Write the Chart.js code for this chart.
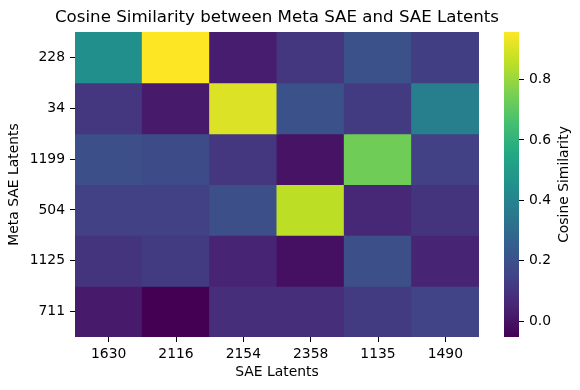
<!DOCTYPE html>
<html>
<head>
<meta charset="utf-8">
<script src="https://cdn.jsdelivr.net/npm/chart.js@4"></script>
<style>
  body { margin: 0; background: #fff; }
  #wrap { position: relative; width: 580px; height: 390px; }
  canvas { position: absolute; left: 0; top: 0; }
</style>
</head>
<body>
<div id="wrap">
  <canvas id="heat" width="554" height="390"></canvas>
  <canvas id="cbar" width="580" height="390"></canvas>
</div>
<script>
// SAE latents (columns) and Meta SAE latents (rows)
const colLabels = ['1630', '2116', '2154', '2358', '1135', '1490'];
const rowLabels = ['228', '34', '1199', '504', '1125', '711'];

// cosine similarity, one row per Meta SAE latent
const similarity = [
  [0.45, 0.957, 0.03, 0.11, 0.20, 0.13],
  [0.11, 0.02, 0.905, 0.20, 0.12, 0.38],
  [0.19, 0.18, 0.11, 0.00, 0.735, 0.14],
  [0.14, 0.14, 0.19, 0.855, 0.06, 0.10],
  [0.10, 0.12, 0.05, -0.01, 0.19, 0.05],
  [0.02, -0.052, 0.08, 0.08, 0.12, 0.15]
];
const cbTicks = [0.0, 0.2, 0.4, 0.6, 0.8];

const vmin = Math.min(...similarity.flat());
const vmax = Math.max(...similarity.flat());

// viridis, sampled every 0.1
const viridis = ['#440154', '#482475', '#414487', '#355f8d', '#2a788e', '#21918c',
                 '#22a884', '#44bf70', '#7ad151', '#bddf26', '#fde725'];

function hexToRgb(h) {
  return [parseInt(h.slice(1, 3), 16), parseInt(h.slice(3, 5), 16), parseInt(h.slice(5, 7), 16)];
}
function colorFor(v) {
  let t = (v - vmin) / (vmax - vmin);
  t = Math.max(0, Math.min(1, t)) * (viridis.length - 1);
  const i = Math.min(Math.floor(t), viridis.length - 2);
  const f = t - i;
  const a = hexToRgb(viridis[i]), b = hexToRgb(viridis[i + 1]);
  const c = a.map((x, k) => Math.round(x + (b[k] - x) * f));
  return 'rgb(' + c.join(',') + ')';
}

Chart.defaults.font.family = '"DejaVu Sans", sans-serif';
Chart.defaults.font.size = 13.9;
Chart.defaults.color = '#000';

// one floating-bar dataset per row, spanning [row-0.5, row+0.5]
const datasets = similarity.map((row, r) => ({
  label: rowLabels[r],
  data: row.map(() => [r - 0.5, r + 0.5]),
  backgroundColor: row.map(colorFor),
  borderWidth: 0,
  inflateAmount: 0.5,
  barPercentage: 1,
  categoryPercentage: 1,
  grouped: false
}));

// canvas is 554 wide and an empty right axis mirrors the left one,
// so the title centres over the heatmap
new Chart(document.getElementById('heat'), {
  type: 'bar',
  data: { labels: colLabels, datasets: datasets },
  options: {
    responsive: false,
    animation: false,
    plugins: {
      legend: { display: false },
      tooltip: { enabled: false },
      title: {
        display: true,
        text: 'Cosine Similarity between Meta SAE and SAE Latents',
        color: '#000',
        font: { size: 16.67, weight: 'normal' },
        padding: { top: 7.5, bottom: 4.5 }
      }
    },
    scales: {
      x: {
        grid: { offset: false, drawOnChartArea: false, tickLength: 5, color: '#000' },
        border: { display: false },
        ticks: { padding: 4 },
        title: { display: true, text: 'SAE Latents', padding: { top: 0, bottom: 9 } },
        afterFit: (axis) => { axis.width = axis.width; axis.height = 53; }
      },
      y: {
        type: 'linear',
        reverse: true,
        min: -0.5,
        max: rowLabels.length - 0.5,
        afterBuildTicks: (axis) => { axis.ticks = rowLabels.map((_, i) => ({ value: i })); },
        grid: { drawOnChartArea: false, tickLength: 5, color: '#000' },
        border: { display: false },
        ticks: { padding: 5, callback: (v) => rowLabels[v] },
        title: { display: true, text: 'Meta SAE Latents', padding: { top: 6, bottom: 0 } },
        afterFit: (axis) => { axis.width = 75; }
      },
      spacer: {
        type: 'linear',
        position: 'right',
        grid: { display: false },
        border: { display: false },
        ticks: { display: false },
        afterFit: (axis) => { axis.width = 75; }
      }
    }
  }
});

// colour bar: a single floating bar filled with the colormap
const cbLabel = {
  id: 'cbLabel',
  afterDraw(chart) {
    const { ctx, chartArea } = chart;
    ctx.save();
    ctx.translate(chart.scales.y.right - 10, (chartArea.top + chartArea.bottom) / 2);
    ctx.rotate(-Math.PI / 2);
    ctx.fillStyle = '#000';
    ctx.font = '13.9px "DejaVu Sans", sans-serif';
    ctx.textAlign = 'center';
    ctx.textBaseline = 'middle';
    ctx.fillText('Cosine Similarity', 0, 0);
    ctx.restore();
  }
};

new Chart(document.getElementById('cbar'), {
  type: 'bar',
  data: {
    labels: [''],
    datasets: [{
      data: [[vmin, vmax]],
      backgroundColor: (c) => {
        const area = c.chart.chartArea;
        if (!area) return viridis[0];
        const g = c.chart.ctx.createLinearGradient(0, area.bottom, 0, area.top);
        viridis.forEach((col, i) => g.addColorStop(i / (viridis.length - 1), col));
        return g;
      },
      borderWidth: 0,
      barPercentage: 1,
      categoryPercentage: 1
    }]
  },
  options: {
    responsive: false,
    animation: false,
    layout: { padding: { left: 504, right: 6, top: 32, bottom: 53 } },
    plugins: { legend: { display: false }, tooltip: { enabled: false } },
    scales: {
      x: { display: false },
      y: {
        position: 'right',
        min: vmin,
        max: vmax,
        afterBuildTicks: (axis) => { axis.ticks = cbTicks.map((v) => ({ value: v })); },
        grid: { drawOnChartArea: false, tickLength: 5, color: '#000' },
        border: { display: false },
        ticks: { padding: 5, callback: (v) => v.toFixed(1) },
        afterFit: (axis) => { axis.width = 55; }
      }
    }
  },
  plugins: [cbLabel]
});
</script>
</body>
</html>
